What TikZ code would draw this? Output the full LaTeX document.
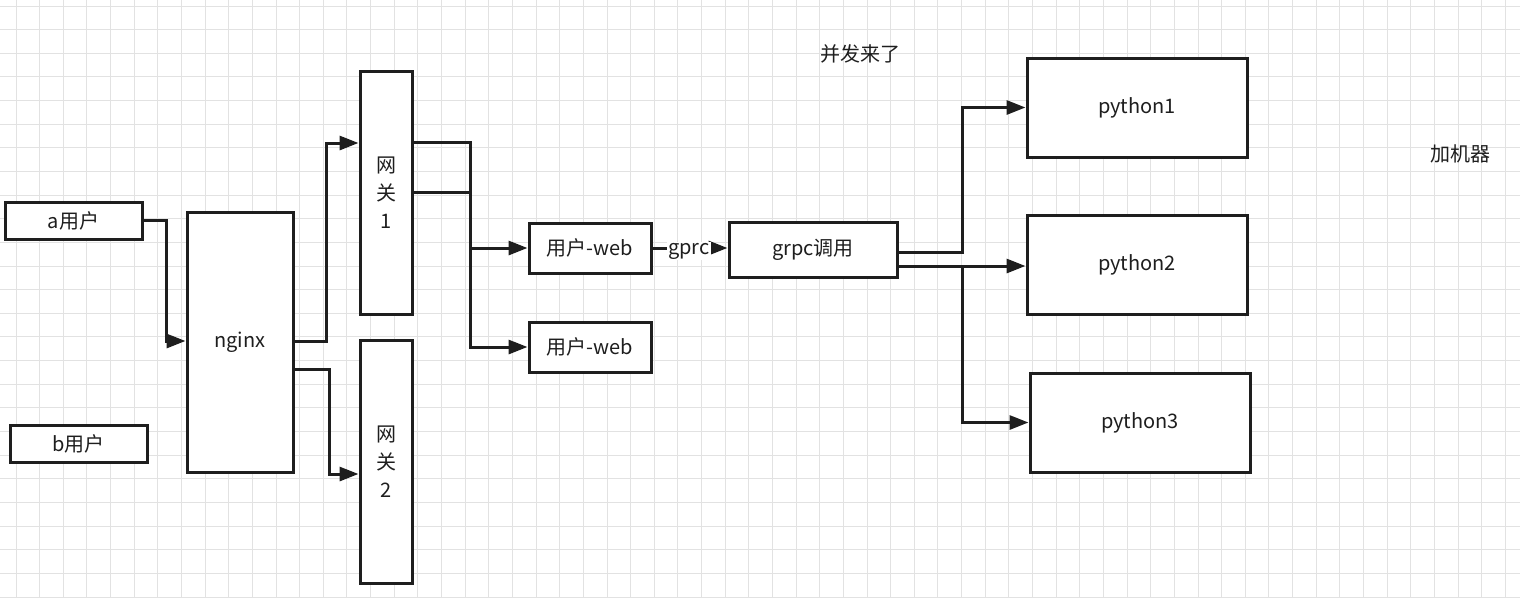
\documentclass[tikz,border=0pt]{standalone}
\usepackage{fontspec}
\setmainfont{Noto Sans CJK SC}
\usetikzlibrary{arrows.meta}
\definecolor{gridc}{HTML}{E2E2E2}
\definecolor{ink}{HTML}{1E1E1E}
\tikzset{
  box/.style={draw=ink, line width=3pt, fill=white, rectangle, inner sep=0pt, font=\fontsize{20}{28}\selectfont, text=ink},
  conn/.style={draw=ink, line width=3pt, -{Triangle[length=19pt,width=14pt]}},
  plain/.style={draw=ink, line width=3pt},
  lbl/.style={font=\fontsize{20}{24}\selectfont, text=ink, inner sep=1pt},
}
\begin{document}
\begin{tikzpicture}[x=1pt,y=-1pt]
\useasboundingbox (0,0) rectangle (1520,598);
\fill[white] (0,0) rectangle (1520,598);
% grid
\foreach \i in {0,...,64} {
  \draw[gridc, line width=1pt] ({16+23.64*\i},0) -- ({16+23.64*\i},598);
}
\foreach \j in {0,...,25} {
  \draw[gridc, line width=1pt] (0,{6+23.64*\j}) -- (1520,{6+23.64*\j});
}
% nodes
\node[box, minimum width=137pt, minimum height=37pt] (a) at (73.5,220.5) {a用户};
\node[box, minimum width=137pt, minimum height=37pt] (b) at (78.5,443.5) {b用户};
\node[box, minimum width=106pt, minimum height=260pt] (nginx) at (240,342) {nginx};
\node[box, minimum width=52pt, minimum height=243pt, align=center] (gw1) at (386,193) {网\\关\\1};
\node[box, minimum width=52pt, minimum height=243pt, align=center] (gw2) at (386,462) {网\\关\\2};
\node[box, minimum width=122pt, minimum height=50pt] (web1) at (590,248) {用户-web};
\node[box, minimum width=122pt, minimum height=50pt] (web2) at (590,347) {用户-web};
\node[box, minimum width=168pt, minimum height=55pt] (grpc) at (813,249.5) {grpc调用};
\node[box, minimum width=220pt, minimum height=99pt] (py1) at (1137,107.5) {python1};
\node[box, minimum width=220pt, minimum height=99pt] (py2) at (1137,264.5) {python2};
\node[box, minimum width=220pt, minimum height=99pt] (py3) at (1140,422.5) {python3};
\node[lbl] (t1) at (860,54) {并发来了};
\node[lbl] (t2) at (1460,154) {加机器};
% connectors
\draw[conn] (a.east) -- ++(23,0) |- (nginx.west |- 0,341);
\draw[conn] (nginx.east |- 0,341) -- ++(32,0) |- (gw1.west |- 0,143);
\draw[conn] (nginx.east |- 0,369) -- ++(35,0) |- (gw2.west |- 0,474);
\draw[conn] (gw1.east |- 0,142) -- ++(57,0) |- (web1.west);
\draw[conn] (gw1.east |- 0,142) -- ++(57,0) |- (web2.west);
\coordinate (j1) at (469,192);
\draw[plain] (gw1.east |- 0,192) -- (j1);
\draw[conn] (web1.east) -- (grpc.west |- web1.east) node[midway, lbl, fill=white, xshift=-1pt, yshift=-3pt] {gprc};
\draw[conn] (grpc.east |- 0,252) -- (962,252) |- (py1.west);
\draw[conn] (grpc.east |- 0,266) -- (py2.west |- 0,266);
\draw[conn] (grpc.east |- 0,266) -- (962,266) |- (py3.west);
\end{tikzpicture}
\end{document}
